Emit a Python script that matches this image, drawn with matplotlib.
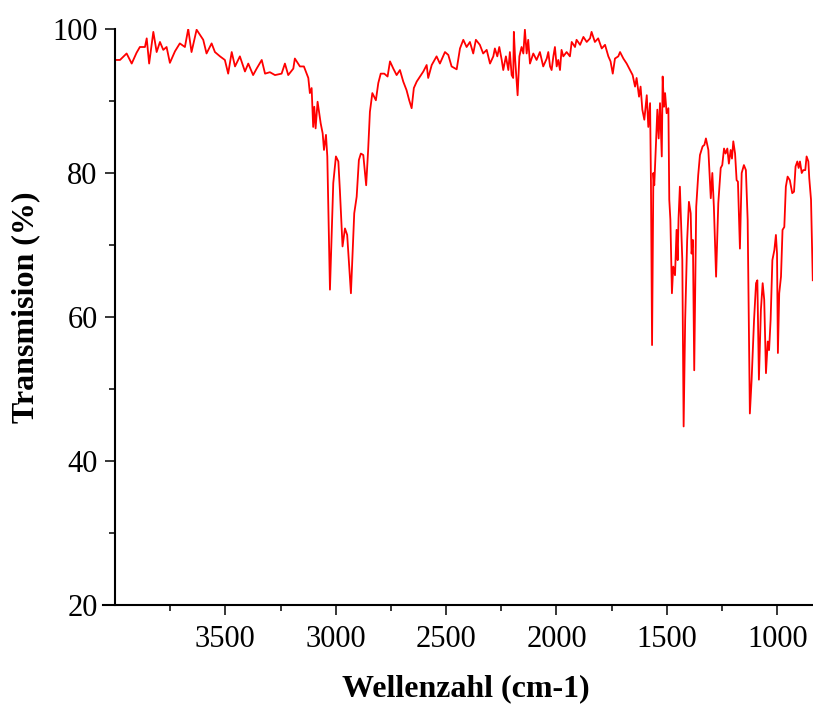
import matplotlib
matplotlib.use('Agg')
import matplotlib.pyplot as plt
from matplotlib.ticker import FixedLocator
import numpy as np

# IR spectrum (wavenumber cm-1, transmission %)
wavenumber = [4000, 3977, 3947, 3924, 3902, 3887, 3864, 3856, 3845, 3826,
              3811, 3796, 3781, 3766, 3751, 3728, 3706, 3683, 3668, 3653,
              3630, 3615, 3600, 3585, 3562, 3547, 3524, 3502, 3487, 3471,
              3456, 3434, 3411, 3396, 3374, 3358, 3335, 3320, 3298, 3275,
              3245, 3230, 3215, 3192, 3185, 3162, 3144, 3124, 3117, 3109,
              3102, 3097, 3091, 3082, 3068, 3059, 3053, 3044, 3038, 3026,
              3011, 2999, 2988, 2981, 2969, 2958, 2948, 2931, 2916, 2905,
              2895, 2886, 2875, 2862, 2853, 2845, 2834, 2818, 2807, 2796,
              2780, 2765, 2754, 2739, 2724, 2709, 2694, 2679, 2667, 2656,
              2646, 2633, 2618, 2603, 2588, 2581, 2565, 2543, 2528, 2505,
              2490, 2475, 2452, 2437, 2422, 2407, 2392, 2377, 2365, 2347,
              2332, 2316, 2301, 2286, 2279, 2268, 2259, 2248, 2241, 2229,
              2218, 2211, 2203, 2196, 2193, 2187, 2176, 2168, 2158, 2150,
              2143, 2135, 2128, 2120, 2105, 2090, 2075, 2060, 2044, 2037,
              2029, 2022, 2014, 2007, 1999, 1992, 1984, 1977, 1969, 1954,
              1939, 1931, 1916, 1909, 1893, 1878, 1863, 1848, 1841, 1826,
              1811, 1795, 1780, 1765, 1755, 1745, 1735, 1720, 1712, 1697,
              1682, 1667, 1655, 1644, 1637, 1626, 1619, 1611, 1602, 1591,
              1584, 1576, 1572, 1567, 1561, 1557, 1549, 1543, 1537, 1531,
              1523, 1519, 1513, 1508, 1501, 1493, 1489, 1484, 1477, 1471,
              1463, 1456, 1451, 1447, 1441, 1436, 1430, 1424, 1417, 1408,
              1400, 1392, 1388, 1382, 1376, 1367, 1358, 1350, 1338, 1330,
              1323, 1312, 1301, 1294, 1287, 1277, 1267, 1256, 1249, 1241,
              1234, 1226, 1219, 1211, 1205, 1199, 1191, 1184, 1178, 1169,
              1161, 1151, 1142, 1134, 1124, 1116, 1105, 1096, 1090, 1083,
              1074, 1066, 1059, 1051, 1043, 1037, 1030, 1022, 1013, 1006,
              1001, 997, 991, 983, 976, 968, 961, 953, 943, 932,
              924, 917, 909, 903, 897, 889, 882, 873, 867, 859,
              855, 847, 839]
transmission = [95.7, 95.7, 96.6, 95.2, 96.7, 97.5, 97.5, 98.7, 95.2, 99.6,
                96.8, 98.2, 97.1, 97.5, 95.3, 96.9, 98.0, 97.5, 100.0, 96.8,
                99.9, 99.2, 98.5, 96.6, 98.0, 96.8, 96.2, 95.7, 93.8, 96.8,
                94.8, 96.2, 94.1, 95.2, 93.6, 94.5, 95.7, 93.8, 94.0, 93.6,
                93.8, 95.2, 93.6, 94.5, 95.9, 94.8, 94.8, 93.2, 91.1, 91.8,
                86.4, 89.2, 86.2, 89.9, 86.9, 85.5, 83.2, 85.3, 82.3, 63.8,
                78.6, 82.3, 81.6, 77.6, 69.8, 72.3, 71.4, 63.3, 74.4, 76.7,
                81.8, 82.7, 82.5, 78.3, 83.2, 88.5, 91.1, 90.1, 92.5, 93.8,
                93.8, 93.4, 95.5, 94.5, 93.6, 94.3, 92.7, 91.5, 90.1, 89.0,
                91.8, 92.7, 93.4, 94.1, 95.0, 93.2, 95.0, 96.2, 95.2, 96.8,
                96.4, 94.8, 94.4, 97.3, 98.5, 97.5, 98.2, 96.6, 98.5, 97.8,
                96.6, 97.1, 95.2, 96.2, 97.3, 96.2, 97.5, 95.7, 94.3, 96.2,
                94.3, 96.8, 93.6, 93.2, 99.6, 95.7, 90.8, 96.2, 97.5, 96.6,
                99.9, 96.6, 98.5, 95.2, 96.6, 95.7, 96.8, 94.8, 95.9, 96.8,
                94.8, 94.3, 96.2, 97.5, 94.8, 95.7, 94.3, 97.1, 96.2, 96.8,
                96.2, 98.2, 97.5, 98.5, 97.8, 98.9, 98.2, 98.7, 99.6, 98.2,
                98.7, 97.3, 97.8, 96.2, 95.5, 93.8, 95.9, 96.2, 96.8, 95.9,
                95.2, 94.3, 93.6, 92.0, 93.2, 90.6, 92.0, 88.8, 87.4, 90.8,
                86.4, 89.7, 78.6, 56.1, 80.0, 78.3, 84.1, 88.8, 84.8, 89.7,
                82.3, 93.4, 89.2, 91.1, 88.3, 89.0, 76.3, 73.5, 63.3, 67.0,
                65.8, 72.1, 67.9, 73.7, 78.1, 73.5, 67.9, 44.8, 59.6, 70.7,
                76.0, 74.4, 68.8, 70.7, 52.6, 75.3, 79.7, 82.5, 83.7, 83.9,
                84.8, 83.2, 76.5, 80.0, 75.3, 65.6, 75.8, 80.7, 81.1, 83.4,
                82.7, 83.4, 81.3, 83.2, 82.0, 84.4, 82.7, 79.0, 78.8, 69.5,
                80.0, 81.1, 80.4, 73.5, 46.6, 51.3, 59.6, 64.7, 65.1, 51.3,
                61.0, 64.7, 62.4, 52.2, 56.6, 55.4, 59.6, 67.9, 69.3, 71.4,
                68.8, 55.0, 63.3, 65.6, 72.1, 72.5, 78.1, 79.5, 79.0, 77.2,
                77.4, 80.9, 81.6, 80.7, 81.6, 80.0, 80.4, 80.4, 82.3, 81.6,
                79.3, 76.3, 65.1]

x_major = [3500, 3000, 2500, 2000, 1500, 1000]
x_minor = [3750, 3250, 2750, 2250, 1750, 1250]
y_major = [20, 40, 60, 80, 100]
y_minor = [30, 50, 70, 90]

plt.rcParams['font.family'] = ['Liberation Serif', 'DejaVu Serif']

fig = plt.figure(figsize=(8.13, 7.08), dpi=100)
ax = fig.add_axes([103 / 813, 103 / 708, 710 / 813, 576 / 708])

ax.plot(wavenumber, transmission, color='#ff0000', lw=1.3)

ax.set_xlim(4054, 838)
ax.set_ylim(20, 100)

ax.spines['top'].set_visible(False)
ax.spines['right'].set_visible(False)
ax.spines['left'].set_position(('data', 4000))
for s in ['left', 'bottom']:
    ax.spines[s].set_linewidth(1.5)

ax.xaxis.set_major_locator(FixedLocator(x_major))
ax.xaxis.set_minor_locator(FixedLocator(x_minor))
ax.yaxis.set_major_locator(FixedLocator(y_major))
ax.yaxis.set_minor_locator(FixedLocator(y_minor))
ax.tick_params(which='major', direction='out', length=7.5, width=1.1,
               labelsize=22, pad=5)
ax.tick_params(axis='x', which='major', pad=7)
ax.tick_params(which='minor', direction='out', length=4.3, width=1.1)

ax.set_xlabel('Wellenzahl (cm-1)', fontsize=23, fontweight='bold')
ax.set_ylabel('Transmision (%)', fontsize=23, fontweight='bold')
ax.xaxis.set_label_coords(0.511, -0.12)
ax.yaxis.set_label_coords(-0.089, 0.517)

fig.savefig('out.png', dpi=100)
